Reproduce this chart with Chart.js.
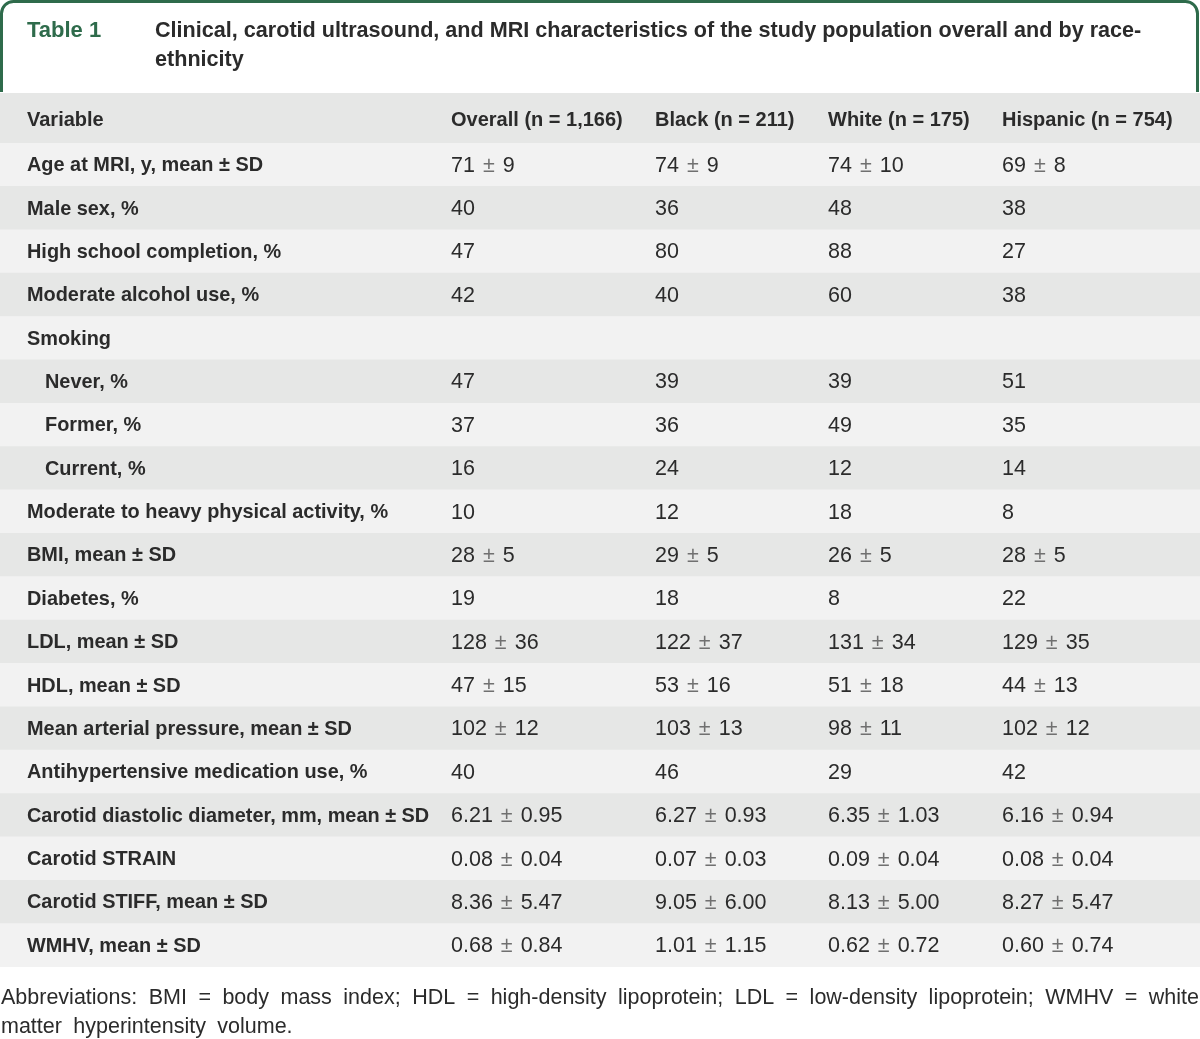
<!DOCTYPE html>
<html>
<head>
<meta charset="utf-8">
<script src="https://cdn.jsdelivr.net/npm/chart.js@4/dist/chart.umd.min.js"></script>
<style>
  html, body { margin: 0; padding: 0; background: #ffffff; }
  #wrap { width: 1200px; height: 1039px; position: relative; }
</style>
</head>
<body>
<div id="wrap"><canvas id="c" width="1200" height="1039"></canvas></div>
<script>
// ---- Data ----
const tableLabel = "Table 1";
const titleLines = [
  "Clinical, carotid ultrasound, and MRI characteristics of the study population overall and by race-",
  "ethnicity"
];
const headers = ["Variable", "Overall (n = 1,166)", "Black (n = 211)", "White (n = 175)", "Hispanic (n = 754)"];
const variables = [
  "Age at MRI, y, mean ± SD",
  "Male sex, %",
  "High school completion, %",
  "Moderate alcohol use, %",
  "Smoking",
  "Never, %",
  "Former, %",
  "Current, %",
  "Moderate to heavy physical activity, %",
  "BMI, mean ± SD",
  "Diabetes, %",
  "LDL, mean ± SD",
  "HDL, mean ± SD",
  "Mean arterial pressure, mean ± SD",
  "Antihypertensive medication use, %",
  "Carotid diastolic diameter, mm, mean ± SD",
  "Carotid STRAIN",
  "Carotid STIFF, mean ± SD",
  "WMHV, mean ± SD"
];
const subRows = ["Never, %", "Former, %", "Current, %"];
const overall = ["71 ± 9","40","47","42","","47","37","16","10","28 ± 5","19","128 ± 36","47 ± 15","102 ± 12","40","6.21 ± 0.95","0.08 ± 0.04","8.36 ± 5.47","0.68 ± 0.84"];
const black = ["74 ± 9","36","80","40","","39","36","24","12","29 ± 5","18","122 ± 37","53 ± 16","103 ± 13","46","6.27 ± 0.93","0.07 ± 0.03","9.05 ± 6.00","1.01 ± 1.15"];
const white = ["74 ± 10","48","88","60","","39","49","12","18","26 ± 5","8","131 ± 34","51 ± 18","98 ± 11","29","6.35 ± 1.03","0.09 ± 0.04","8.13 ± 5.00","0.62 ± 0.72"];
const hispanic = ["69 ± 8","38","27","38","","51","35","14","8","28 ± 5","22","129 ± 35","44 ± 13","102 ± 12","42","6.16 ± 0.94","0.08 ± 0.04","8.27 ± 5.47","0.60 ± 0.74"];
const footnoteLines = [
  "Abbreviations: BMI = body mass index; HDL = high-density lipoprotein; LDL = low-density lipoprotein; WMHV = white",
  "matter hyperintensity volume."
];

// ---- Layout / style ----
const FONT = '"Liberation Sans", Arial, sans-serif';
const GREEN = '#2e6b4b';
const TEXT = '#2b2b2b';
const DARK_ROW = '#e6e7e6';
const LIGHT_ROW = '#f2f2f2';
const colX = [27, 451, 655, 828, 1002];
const indentX = 45;
const headerTop = 93;

function drawValue(ctx, s, x, y) {
  const parts = s.split(' ± ');
  ctx.fillStyle = TEXT;
  if (parts.length === 1) { ctx.fillText(s, x, y); return; }
  ctx.fillText(parts[0], x, y);
  let cx = x + ctx.measureText(parts[0]).width + 8;
  ctx.fillStyle = '#707070';
  ctx.fillText('±', cx, y);
  cx += ctx.measureText('±').width + 8;
  ctx.fillStyle = TEXT;
  ctx.fillText(parts[1], cx, y);
}

const tablePlugin = {
  id: 'tablePlugin',
  beforeDraw(chart) {
    const ctx = chart.ctx;
    const area = chart.chartArea;
    ctx.save();
    ctx.strokeStyle = GREEN;
    ctx.lineWidth = 3;
    const r = 12, L = 1.5, R = chart.width - 2.5, T = 1.5, B = headerTop - 1;
    ctx.beginPath();
    ctx.moveTo(L, B);
    ctx.lineTo(L, T + r);
    ctx.arcTo(L, T, L + r, T, r);
    ctx.lineTo(R - r, T);
    ctx.arcTo(R, T, R, T + r, r);
    ctx.lineTo(R, B);
    ctx.stroke();
    ctx.fillStyle = DARK_ROW;
    ctx.fillRect(0, headerTop, chart.width, area.top - headerTop);
    ctx.restore();
  },
  afterDatasetsDraw(chart) {
    const ctx = chart.ctx;
    const yScale = chart.scales.y;
    const area = chart.chartArea;
    ctx.save();
    ctx.textBaseline = 'middle';
    ctx.textAlign = 'left';
    ctx.font = 'bold 22px ' + FONT;
    ctx.fillStyle = GREEN;
    ctx.fillText(tableLabel, 27, 31);
    ctx.font = 'bold 21.6px ' + FONT;
    ctx.fillStyle = TEXT;
    titleLines.forEach((t, i) => ctx.fillText(t, 155, 31 + i * 29));
    ctx.font = 'bold 20px ' + FONT;
    const hy = (headerTop + area.top) / 2 + 2;
    headers.forEach((h, j) => { ctx.fillStyle = TEXT; ctx.fillText(h, colX[j], hy); });
    const cols = [overall, black, white, hispanic];
    variables.forEach((v, i) => {
      const y = yScale.getPixelForValue(i) + 1;
      ctx.font = 'bold 19.9px ' + FONT;
      ctx.fillStyle = TEXT;
      ctx.fillText(v, subRows.includes(v) ? indentX : colX[0], y);
      ctx.font = '21.5px ' + FONT;
      cols.forEach((c, j) => { if (c[i]) drawValue(ctx, c[i], colX[j + 1], y); });
    });
    ctx.font = '21.5px ' + FONT;
    ctx.fillStyle = TEXT;
    const maxW = chart.width - 2;
    const sp = ctx.measureText(' ').width;
    footnoteLines.forEach((line, li) => {
      const ln = line.split(' ');
      const y = area.bottom + 31 + li * 29;
      const ww = ln.reduce((a, t) => a + ctx.measureText(t).width, 0);
      const gap = li < footnoteLines.length - 1 ? (maxW - ww) / (ln.length - 1) : sp * 1.9;
      let x = 1;
      ln.forEach(w => { ctx.fillText(w, x, y); x += ctx.measureText(w).width + gap; });
    });
    ctx.restore();
  }
};

new Chart(document.getElementById('c'), {
  type: 'bar',
  data: {
    labels: variables,
    datasets: [{
      data: variables.map(() => [0, 1]),
      backgroundColor: variables.map((_, i) => (i % 2 === 1 ? DARK_ROW : LIGHT_ROW)),
      borderWidth: 0,
      barPercentage: 1,
      categoryPercentage: 1
    }]
  },
  options: {
    indexAxis: 'y',
    responsive: false,
    animation: false,
    events: [],
    layout: { padding: { top: 143, bottom: 72, left: 0, right: 0 } },
    scales: {
      x: { display: false, min: 0, max: 1 },
      y: { display: false }
    },
    plugins: { legend: { display: false }, tooltip: { enabled: false }, title: { display: false } }
  },
  plugins: [tablePlugin]
});
</script>
</body>
</html>
